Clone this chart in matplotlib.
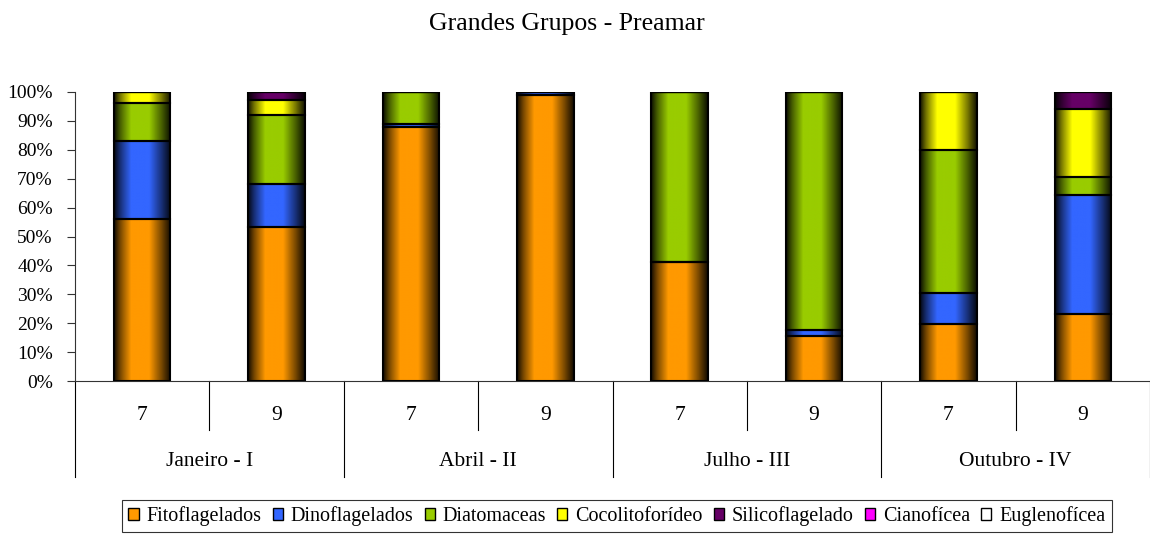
import matplotlib.pyplot as plt
import numpy as np
from matplotlib.patches import Patch
from matplotlib.colors import to_rgb
from matplotlib.ticker import PercentFormatter

# values in %
days = ['7', '9', '7', '9', '7', '9', '7', '9']
months = ['Janeiro - I', 'Abril - II', 'Julho - III', 'Outubro - IV']
groups = ['Fitoflagelados', 'Dinoflagelados', 'Diatomaceas', 'Cocolitoforídeo',
          'Silicoflagelado', 'Cianofícea', 'Euglenofícea']
fito = [56.1, 53.3, 87.8, 98.9, 41.2, 15.6, 19.6, 23.3]
dino = [27.0, 14.8, 1.2, 1.1, 0.0, 2.0, 11.0, 41.2]
diat = [13.2, 24.0, 11.0, 0.0, 58.8, 82.4, 49.5, 6.1]
coco = [3.7, 5.2, 0.0, 0.0, 0.0, 0.0, 19.9, 23.4]
sili = [0.0, 2.7, 0.0, 0.0, 0.0, 0.0, 0.0, 6.0]
ciano = [0.0] * 8
eugl = [0.0] * 8
colors = ['#FF9900', '#3366FF', '#99CC00', '#FFFF00', '#660066', '#FF00FF', '#FFFFFF']

plt.rcParams['font.family'] = ['Liberation Serif', 'DejaVu Serif']

fig = plt.figure(figsize=(11.5, 5.35), dpi=100)
ax = fig.add_axes([75 / 1150, 154 / 535, 1075 / 1150, 289 / 535])

x = np.arange(len(days))
width = 0.42
# cylinder-like shading across the bar width
t = np.linspace(0, 1, 64)
shade = np.interp(t, [0, 0.1, 0.3, 0.62, 0.85, 1], [0.08, 0.45, 1.0, 1.0, 0.45, 0.08])

bottom = np.zeros(len(days))
for vals, col in zip([fito, dino, diat, coco, sili, ciano, eugl], colors):
    vals = np.array(vals) / 100
    rgb = np.array(to_rgb(col))
    grad = (shade[:, None] * rgb[None, :])[None, :, :]
    for xi, v, b in zip(x, vals, bottom):
        if v <= 0:
            continue
        ax.imshow(grad, extent=(xi - width / 2, xi + width / 2, b, b + v),
                  aspect='auto', interpolation='bilinear', zorder=2)
    ax.bar(x, vals, width, bottom=bottom, facecolor='none',
           edgecolor='black', linewidth=1.5, zorder=3)
    bottom += vals

ax.set_xlim(-0.5, 7.5)
ax.set_ylim(0, 1)
ax.set_aspect('auto')
ax.set_yticks(np.arange(0, 1.01, 0.1))
ax.yaxis.set_major_formatter(PercentFormatter(1.0, decimals=0))
ax.tick_params(axis='y', labelsize=14, length=6, width=0.8, color='#333333', pad=10)
for s in ['top', 'right']:
    ax.spines[s].set_visible(False)
ax.spines['left'].set_color('#333333')
ax.spines['bottom'].set_color('#333333')

# two-level category axis
ax.set_xticks([])
tr = ax.get_xaxis_transform()
for xi, d in zip(x, days):
    ax.text(xi, -0.118, d, transform=tr, ha='center', va='center', fontsize=15.5)
for i in range(len(days) + 1):
    b = i - 0.5
    low = -0.332 if i % 2 == 0 else -0.17
    ax.plot([b, b], [0, low], transform=tr, color='black', lw=0.8, clip_on=False)
for i, m in enumerate(months):
    ax.text(2 * i + 0.5, -0.28, m, transform=tr, ha='center', va='center', fontsize=15.5)

fig.text(567 / 1150, 1 - 24 / 535, 'Grandes Grupos - Preamar', ha='center', va='center',
         fontsize=18.5)

handles = [Patch(facecolor=c, edgecolor='black', linewidth=1) for c in colors]
leg = fig.legend(handles, groups, loc='center', bbox_to_anchor=(617 / 1150, 1 - 516 / 535),
                 ncol=7, fontsize=14.5, frameon=True, fancybox=False, edgecolor='black',
                 handlelength=0.5, handleheight=0.5, handletextpad=0.4, columnspacing=0.55,
                 borderpad=0.3, borderaxespad=0)
leg.get_frame().set_linewidth(0.8)

fig.savefig('out.png', dpi=100)
